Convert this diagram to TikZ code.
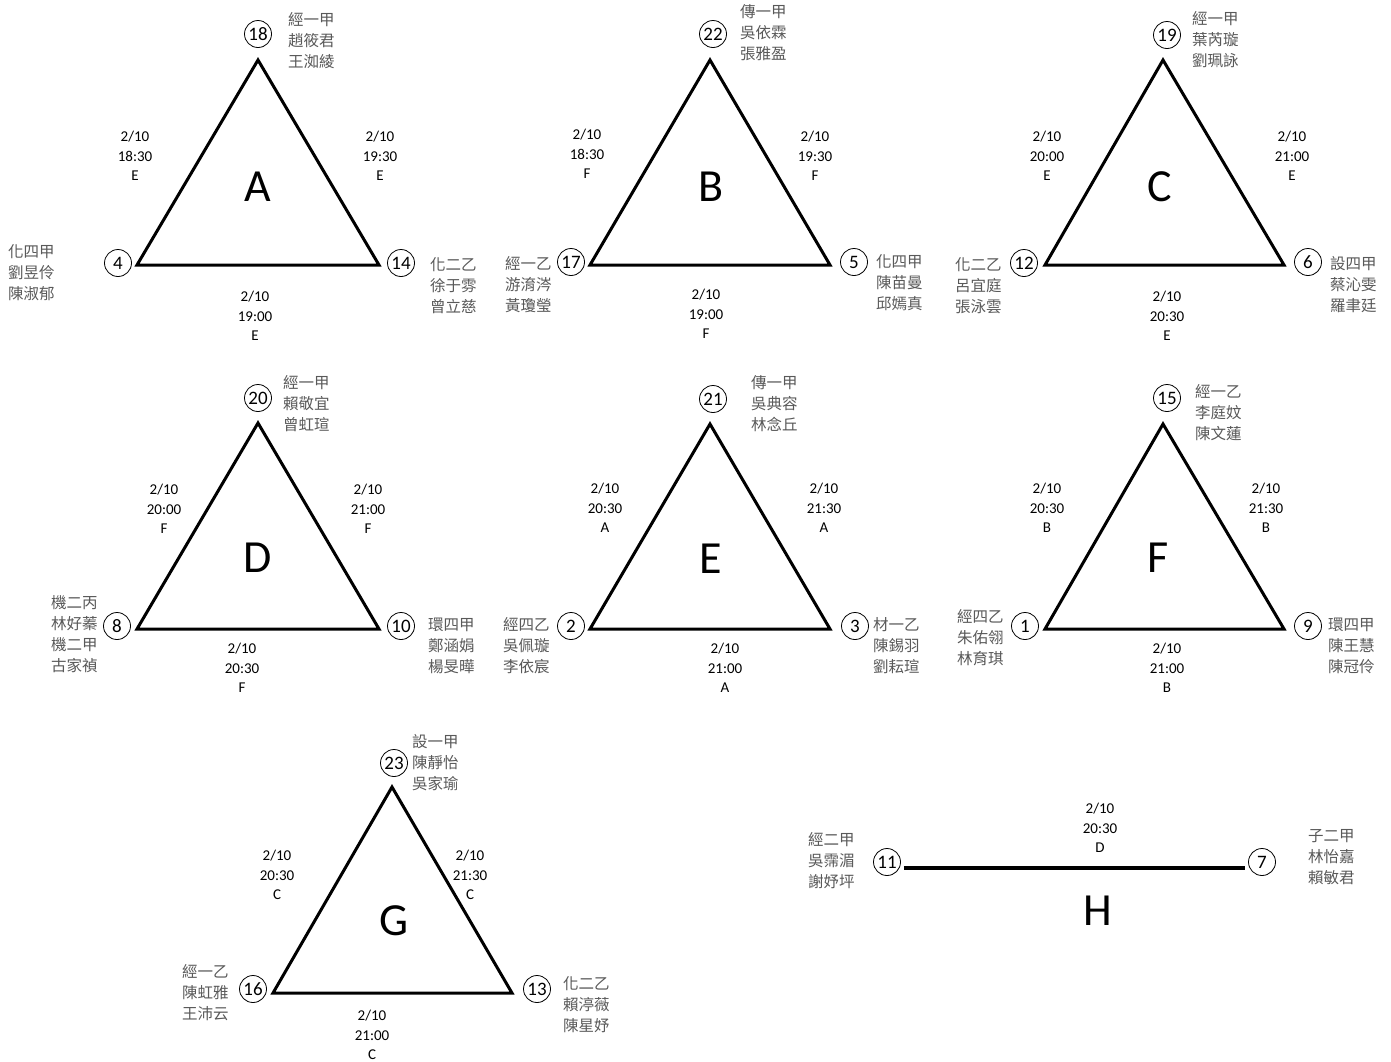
\documentclass[tikz,border=0pt]{standalone}
\usepackage{fontspec}
\setmainfont{Carlito}
\newfontfamily\cjk{Noto Sans CJK TC}
\definecolor{txtgray}{RGB}{89,89,89}
\tikzset{
  vnum/.style={circle,draw,line width=0.8pt,minimum size=27pt,inner sep=0pt,font=\fontsize{19}{19}\selectfont},
  names/.style={anchor=west,inner sep=0pt,align=left,text=txtgray,font=\cjk\fontsize{15.5}{21}\selectfont},
  slot/.style={inner sep=0pt,align=center,font=\fontsize{15}{19.5}\selectfont},
  grp/.style={inner sep=0pt,font=\fontsize{46}{46}\selectfont},
  tri/.style={line width=3pt,line join=miter},
}
\begin{document}
\begin{tikzpicture}[x=1pt,y=-1pt]
\useasboundingbox[fill=white] (0,0) rectangle (1391,1061);

% ---------- A ----------
\coordinate (A1) at (258,60); \coordinate (A2) at (137,265); \coordinate (A3) at (379,265);
\draw[tri] (A1) -- (A2) -- (A3) -- cycle;
\node[vnum] (n18) at (258,34) {18};
\node[vnum] (n4) at (118,263) {4};
\node[vnum] (n14) at (401,263) {14};
\node[names] (l18) at (288,41) {經一甲\\趙筱君\\王洳綾};
\node[names] (l4) at (8,273) {化四甲\\劉昱伶\\陳淑郁};
\node[names] (l14) at (430,286) {化二乙\\徐于雰\\曾立慈};
\node[slot] (sA1) at (135,156) {2/10\\18:30\\E};
\node[slot] (sA2) at (380,156) {2/10\\19:30\\E};
\node[slot] (sA3) at (255,316) {2/10\\19:00\\E};
\node[grp] (gA) at (258,187) {A};

% ---------- B ----------
\coordinate (B1) at (710,60); \coordinate (B2) at (590,265); \coordinate (B3) at (830,265);
\draw[tri] (B1) -- (B2) -- (B3) -- cycle;
\node[vnum] (n22) at (713,34) {22};
\node[vnum] (n17) at (571,262) {17};
\node[vnum] (n5) at (854,262) {5};
\node[names] (l22) at (740,33) {傳一甲\\吳依霖\\張雅盈};
\node[names] (l17) at (505,285) {經一乙\\游淯涔\\黃瓊瑩};
\node[names] (l5) at (876,283) {化四甲\\陳苗曼\\邱嫣真};
\node[slot] (sB1) at (587,154) {2/10\\18:30\\F};
\node[slot] (sB2) at (815,156) {2/10\\19:30\\F};
\node[slot] (sB3) at (706,314) {2/10\\19:00\\F};
\node[grp] (gB) at (711,187) {B};

% ---------- C ----------
\coordinate (C1) at (1163,60); \coordinate (C2) at (1045,265); \coordinate (C3) at (1284,265);
\draw[tri] (C1) -- (C2) -- (C3) -- cycle;
\node[vnum] (n19) at (1167,35) {19};
\node[vnum] (n12) at (1024,263) {12};
\node[vnum] (n6) at (1308,262) {6};
\node[names] (l19) at (1192,40) {經一甲\\葉芮璇\\劉珮詠};
\node[names] (l12) at (955,286) {化二乙\\呂宜庭\\張泳雲};
\node[names] (l6) at (1330,285) {設四甲\\蔡沁雯\\羅聿廷};
\node[slot] (sC1) at (1047,156) {2/10\\20:00\\E};
\node[slot] (sC2) at (1292,156) {2/10\\21:00\\E};
\node[slot] (sC3) at (1167,316) {2/10\\20:30\\E};
\node[grp] (gC) at (1160,187) {C};

% ---------- D ----------
\coordinate (D1) at (258,423); \coordinate (D2) at (137,629); \coordinate (D3) at (379,629);
\draw[tri] (D1) -- (D2) -- (D3) -- cycle;
\node[vnum] (n20) at (258,398) {20};
\node[vnum] (n8) at (117,626) {8};
\node[vnum] (n10) at (401,626) {10};
\node[names] (l20) at (283,404) {經一甲\\賴敬宜\\曾虹瑄};
\node[names] (l8) at (51,634.5) {機二丙\\林好蓁\\機二甲\\古家禎};
\node[names] (l10) at (428,646) {環四甲\\鄭涵娟\\楊旻曄};
\node[slot] (sD1) at (164,509) {2/10\\20:00\\F};
\node[slot] (sD2) at (368,509) {2/10\\21:00\\F};
\node[slot] (sD3) at (242,668) {2/10\\20:30\\F};
\node[grp] (gD) at (258,558) {D};

% ---------- E ----------
\coordinate (E1) at (710,424); \coordinate (E2) at (590,629); \coordinate (E3) at (830,629);
\draw[tri] (E1) -- (E2) -- (E3) -- cycle;
\node[vnum] (n21) at (713,399) {21};
\node[vnum] (n2) at (571,626) {2};
\node[vnum] (n3) at (855,626) {3};
\node[names] (l21) at (751,404) {傳一甲\\吳典容\\林念丘};
\node[names] (l2) at (503,646) {經四乙\\吳佩璇\\李依宸};
\node[names] (l3) at (873,646) {材一乙\\陳錫羽\\劉耘瑄};
\node[slot] (sE1) at (605,508) {2/10\\20:30\\A};
\node[slot] (sE2) at (824,508) {2/10\\21:30\\A};
\node[slot] (sE3) at (725,668) {2/10\\21:00\\A};
\node[grp] (gE) at (711,559) {E};

% ---------- F ----------
\coordinate (F1) at (1163,424); \coordinate (F2) at (1045,629); \coordinate (F3) at (1284,629);
\draw[tri] (F1) -- (F2) -- (F3) -- cycle;
\node[vnum] (n15) at (1167,398) {15};
\node[vnum] (n1) at (1025,626) {1};
\node[vnum] (n9) at (1308,626) {9};
\node[names] (l15) at (1195,413) {經一乙\\李庭妏\\陳文蓮};
\node[names] (l1) at (957,638) {經四乙\\朱佑翎\\林育琪};
\node[names] (l9) at (1328,646) {環四甲\\陳王慧\\陳冠伶};
\node[slot] (sF1) at (1047,508) {2/10\\20:30\\B};
\node[slot] (sF2) at (1266,508) {2/10\\21:30\\B};
\node[slot] (sF3) at (1167,668) {2/10\\21:00\\B};
\node[grp] (gF) at (1158,558) {F};

% ---------- G ----------
\coordinate (G1) at (392,787); \coordinate (G2) at (273,993); \coordinate (G3) at (512,993);
\draw[tri] (G1) -- (G2) -- (G3) -- cycle;
\node[vnum] (n23) at (394,763) {23};
\node[vnum] (n16) at (253,989) {16};
\node[vnum] (n13) at (537,989) {13};
\node[names] (l23) at (412,763) {設一甲\\陳靜怡\\吳家瑜};
\node[names] (l16) at (182,993) {經一乙\\陳虹雅\\王沛云};
\node[names] (l13) at (563,1005) {化二乙\\賴渟薇\\陳星妤};
\node[slot] (sG1) at (277,875) {2/10\\20:30\\C};
\node[slot] (sG2) at (470,875) {2/10\\21:30\\C};
\node[slot] (sG3) at (372,1035) {2/10\\21:00\\C};
\node[grp] (gG) at (394,921) {G};

% ---------- H ----------
\node[vnum] (n11) at (887,862) {11};
\node[vnum] (n7) at (1262,862) {7};
\draw[line width=4pt] ([yshift=-6pt,xshift=3pt]n11.east) -- ([yshift=-6pt,xshift=-3pt]n7.west);
\node[names] (l11) at (808,861) {經二甲\\吳霈湄\\謝妤坪};
\node[names] (l7) at (1308,857) {子二甲\\林怡嘉\\賴敏君};
\node[slot] (sH1) at (1100,828) {2/10\\20:30\\D};
\node[grp] (gH) at (1098,911) {H};
\end{tikzpicture}
\end{document}
